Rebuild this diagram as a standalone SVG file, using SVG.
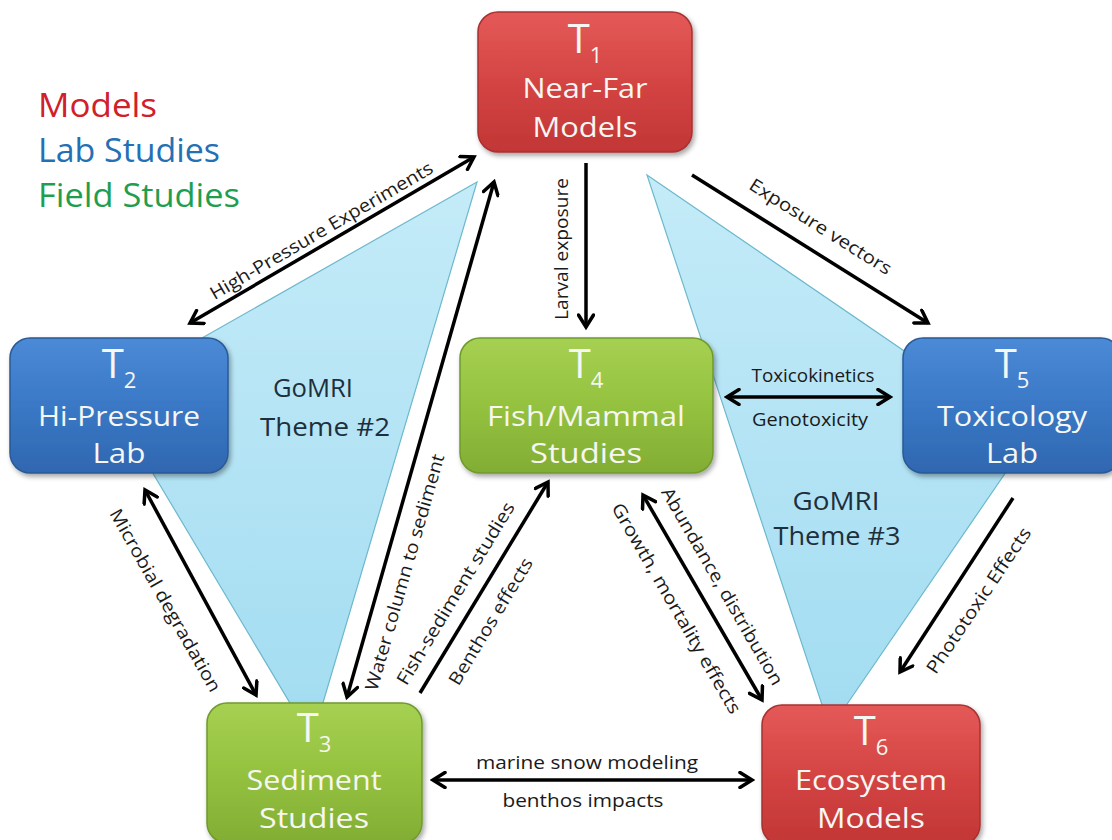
<svg xmlns="http://www.w3.org/2000/svg" width="1112" height="840" viewBox="0 0 1112 840">
<defs>
<linearGradient id="gRed" x1="0" y1="0" x2="0" y2="1"><stop offset="0" stop-color="#e45a58"/><stop offset="0.5" stop-color="#d44443"/><stop offset="1" stop-color="#c23636"/></linearGradient>
<linearGradient id="gBlue" x1="0" y1="0" x2="0" y2="1"><stop offset="0" stop-color="#4b8ad6"/><stop offset="0.5" stop-color="#3a78c6"/><stop offset="1" stop-color="#2f67b0"/></linearGradient>
<linearGradient id="gGreen" x1="0" y1="0" x2="0" y2="1"><stop offset="0" stop-color="#a6d052"/><stop offset="0.5" stop-color="#94c23f"/><stop offset="1" stop-color="#82ad34"/></linearGradient>
<linearGradient id="gTri" x1="0" y1="0" x2="0" y2="1"><stop offset="0" stop-color="#c4ebf8"/><stop offset="1" stop-color="#a2dcf1"/></linearGradient>
<filter id="sh" x="-10%" y="-10%" width="130%" height="130%"><feDropShadow dx="2" dy="3" stdDeviation="2.5" flood-color="#000" flood-opacity="0.35"/></filter>
<marker id="ah" viewBox="0 0 18 18" refX="15" refY="9" markerWidth="18" markerHeight="18" markerUnits="userSpaceOnUse" orient="auto-start-reverse">
<path d="M3,1.5 L15,9 L3,16.5" fill="none" stroke="#000" stroke-width="3.5" stroke-linecap="round"/>
</marker>
<style>
.box{stroke-width:1.5;filter:url(#sh)}
.red{fill:url(#gRed);stroke:#a83030}
.blue{fill:url(#gBlue);stroke:#2a5a96}
.green{fill:url(#gGreen);stroke:#6f9a2c}
.tri{fill:url(#gTri);stroke:#6db8cd;stroke-width:1.2}
.nt{font-family:"Open Sans","Liberation Sans",sans-serif;fill:#f6f6f2;text-anchor:middle}
.tt{font-size:40px}
.sub{font-size:22px}
.nm{font-size:28px}
.conn{fill:none;stroke:#000;stroke-width:3.5}
.lbl{font-family:"Open Sans","Liberation Sans",sans-serif;font-size:18px;fill:#1a1a1a;text-anchor:middle;dominant-baseline:central}
.leg{font-family:"Open Sans","Liberation Sans",sans-serif;font-size:32px}
.theme{font-family:"Open Sans","Liberation Sans",sans-serif;font-size:25px;fill:#1e2f3c;text-anchor:middle}
</style>
</defs>
<rect width="1112" height="840" fill="#ffffff"/>

<g id="theme2">
<polygon class="tri" points="477,182 105,393 312,740"/>
<text class="theme" x="313" y="397" textLength="80" lengthAdjust="spacingAndGlyphs">GoMRI</text>
<text class="theme" x="325" y="436" textLength="130" lengthAdjust="spacingAndGlyphs">Theme #2</text>
</g>
<g id="theme3">
<polygon class="tri" points="647,175 1030,437 830,729"/>
<text class="theme" x="836" y="510" textLength="87" lengthAdjust="spacingAndGlyphs">GoMRI</text>
<text class="theme" x="837" y="545" textLength="127" lengthAdjust="spacingAndGlyphs">Theme #3</text>
</g>

<g id="legend">
<text class="leg" x="38" y="117" fill="#d0202a" textLength="119" lengthAdjust="spacingAndGlyphs">Models</text>
<text class="leg" x="38" y="162" fill="#2470b5" textLength="182" lengthAdjust="spacingAndGlyphs">Lab Studies</text>
<text class="leg" x="38" y="207" fill="#1f9e4f" textLength="202" lengthAdjust="spacingAndGlyphs">Field Studies</text>
</g>

<g id="connectors">
<path class="conn" d="M190,323 L474,157" marker-start="url(#ah)" marker-end="url(#ah)"/>
<path class="conn" d="M494,182 L347,697" marker-start="url(#ah)" marker-end="url(#ah)"/>
<path class="conn" d="M586,163 L586,327" marker-end="url(#ah)"/>
<path class="conn" d="M692,175 L928,323" marker-end="url(#ah)"/>
<path class="conn" d="M727,397 L890,397" marker-start="url(#ah)" marker-end="url(#ah)"/>
<path class="conn" d="M145,490 L256,695" marker-start="url(#ah)" marker-end="url(#ah)"/>
<path class="conn" d="M420,693 L548,482" marker-end="url(#ah)"/>
<path class="conn" d="M643,495 L762,700" marker-start="url(#ah)" marker-end="url(#ah)"/>
<path class="conn" d="M1013,498 L900,672" marker-end="url(#ah)"/>
<path class="conn" d="M433,780 L752,780" marker-start="url(#ah)" marker-end="url(#ah)"/>

<text class="lbl" transform="translate(321,230) rotate(-30.3)" textLength="255" lengthAdjust="spacingAndGlyphs">High-Pressure Experiments</text>
<text class="lbl" transform="translate(404,572) rotate(-74)" textLength="245" lengthAdjust="spacingAndGlyphs">Water column to sediment</text>
<text class="lbl" transform="translate(561,249) rotate(-90)" textLength="142" lengthAdjust="spacingAndGlyphs">Larval exposure</text>
<text class="lbl" transform="translate(821,226) rotate(32.1)" textLength="164" lengthAdjust="spacingAndGlyphs">Exposure vectors</text>
<text class="lbl" x="813" y="375" textLength="123" lengthAdjust="spacingAndGlyphs">Toxicokinetics</text>
<text class="lbl" x="810" y="419" textLength="116" lengthAdjust="spacingAndGlyphs">Genotoxicity</text>
<text class="lbl" transform="translate(166,600) rotate(60.5)" textLength="207" lengthAdjust="spacingAndGlyphs">Microbial degradation</text>
<text class="lbl" transform="translate(455,593) rotate(-58.8)" textLength="210" lengthAdjust="spacingAndGlyphs">Fish-sediment studies</text>
<text class="lbl" transform="translate(490,621) rotate(-58.8)" textLength="145" lengthAdjust="spacingAndGlyphs">Benthos effects</text>
<text class="lbl" transform="translate(723,586) rotate(60)" textLength="225" lengthAdjust="spacingAndGlyphs">Abundance, distribution</text>
<text class="lbl" transform="translate(677,608) rotate(60)" textLength="240" lengthAdjust="spacingAndGlyphs">Growth, mortality effects</text>
<text class="lbl" transform="translate(978,600) rotate(-56)" textLength="172" lengthAdjust="spacingAndGlyphs">Phototoxic Effects</text>
<text class="lbl" x="587" y="762" textLength="222" lengthAdjust="spacingAndGlyphs">marine snow modeling</text>
<text class="lbl" x="583" y="800" textLength="161" lengthAdjust="spacingAndGlyphs">benthos impacts</text>
</g>

<g id="T1">
<rect class="box red" x="478" y="12" width="214" height="140" rx="20"/>
<text class="nt tt" x="585" y="53">T<tspan class="sub" dy="10">1</tspan></text>
<text class="nt nm" x="585" y="98" textLength="125" lengthAdjust="spacingAndGlyphs">Near-Far</text>
<text class="nt nm" x="585" y="137" textLength="105" lengthAdjust="spacingAndGlyphs">Models</text>
</g>
<g id="T2">
<rect class="box blue" x="10" y="338" width="218" height="135" rx="20"/>
<text class="nt tt" x="119" y="378">T<tspan class="sub" dy="10">2</tspan></text>
<text class="nt nm" x="119" y="426" textLength="162" lengthAdjust="spacingAndGlyphs">Hi-Pressure</text>
<text class="nt nm" x="119" y="463" textLength="53" lengthAdjust="spacingAndGlyphs">Lab</text>
</g>
<g id="T3">
<rect class="box green" x="207" y="703" width="215" height="140" rx="20"/>
<text class="nt tt" x="314" y="742">T<tspan class="sub" dy="10">3</tspan></text>
<text class="nt nm" x="314" y="790" textLength="135" lengthAdjust="spacingAndGlyphs">Sediment</text>
<text class="nt nm" x="314" y="828" textLength="110" lengthAdjust="spacingAndGlyphs">Studies</text>
</g>
<g id="T4">
<rect class="box green" x="460" y="338" width="253" height="135" rx="20"/>
<text class="nt tt" x="586" y="378">T<tspan class="sub" dy="10">4</tspan></text>
<text class="nt nm" x="586" y="426" textLength="198" lengthAdjust="spacingAndGlyphs">Fish/Mammal</text>
<text class="nt nm" x="586" y="463" textLength="112" lengthAdjust="spacingAndGlyphs">Studies</text>
</g>
<g id="T5">
<rect class="box blue" x="903" y="338" width="218" height="135" rx="20"/>
<text class="nt tt" x="1012" y="378">T<tspan class="sub" dy="10">5</tspan></text>
<text class="nt nm" x="1012" y="426" textLength="150" lengthAdjust="spacingAndGlyphs">Toxicology</text>
<text class="nt nm" x="1012" y="463" textLength="52" lengthAdjust="spacingAndGlyphs">Lab</text>
</g>
<g id="T6">
<rect class="box red" x="762" y="705" width="218" height="140" rx="20"/>
<text class="nt tt" x="871" y="745">T<tspan class="sub" dy="10">6</tspan></text>
<text class="nt nm" x="871" y="790" textLength="152" lengthAdjust="spacingAndGlyphs">Ecosystem</text>
<text class="nt nm" x="871" y="828" textLength="108" lengthAdjust="spacingAndGlyphs">Models</text>
</g>
</svg>
